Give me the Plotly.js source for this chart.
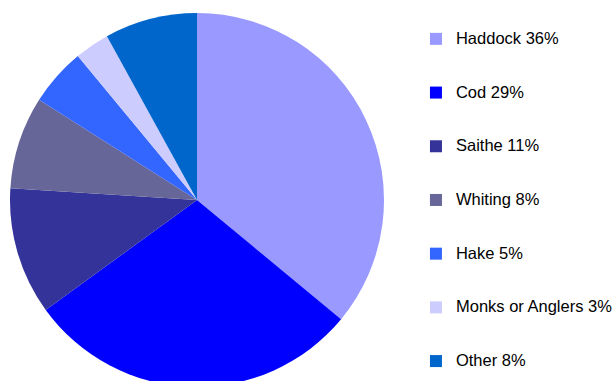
<!DOCTYPE html>
<html>
<head>
<meta charset="utf-8">
<script src="https://cdn.plot.ly/plotly-3.0.1.min.js"></script>
<style>
html,body{margin:0;padding:0;overflow:hidden;background:#fff;}
#chart{width:615px;height:400px;}
</style>
</head>
<body>
<div id="chart"></div>
<script>
var species = ["Haddock", "Cod", "Saithe", "Whiting", "Hake", "Monks or Anglers", "Other"];
var shares = [36, 29, 11, 8, 5, 3, 8];
var colors = ["#9999FF", "#0000FF", "#333399", "#666699", "#3366FF", "#CCCCFF", "#0066CC"];

var legendLabels = species.map(function(s, i){
  return "\u00a0<br><span style='font-size:16.5px'>" + s + " " + shares[i] + "%</span><br>\u00a0";
});

var trace = {
  type: "pie",
  labels: legendLabels,
  values: shares,
  marker: {colors: colors, line: {width: 0}},
  sort: false,
  direction: "clockwise",
  rotation: 0,
  textinfo: "none",
  hoverinfo: "none",
  domain: {x: [0, 374/605], y: [0, 1]}
};

var layout = {
  width: 615,
  height: 400,
  margin: {l: 10, r: 0, t: 13, b: 13, autoexpand: false},
  paper_bgcolor: "#ffffff",
  plot_bgcolor: "#ffffff",
  showlegend: true,
  legend: {
    x: 0.671, xanchor: "left",
    y: 1.016, yanchor: "top",
    maxheight: 400,
    font: {family: "Liberation Sans, Arial, sans-serif", size: 13, color: "#000000"},
    bgcolor: "rgba(0,0,0,0)",
    borderwidth: 0
  }
};

Plotly.newPlot("chart", [trace], layout, {staticPlot: true});
</script>
</body>
</html>
